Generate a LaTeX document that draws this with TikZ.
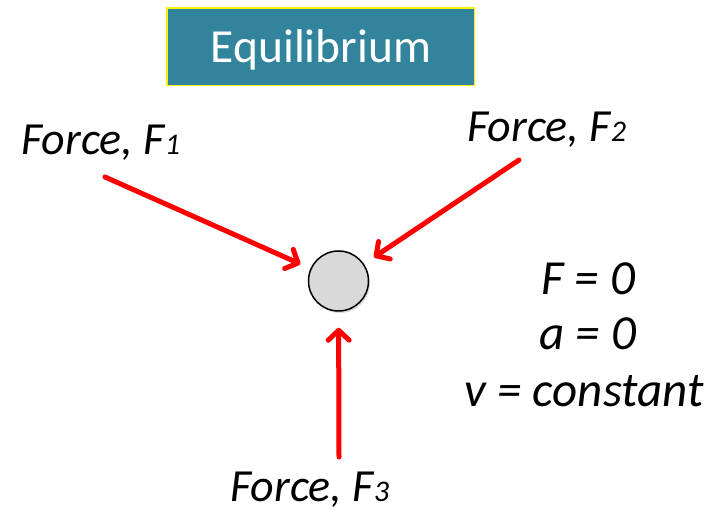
\documentclass[tikz,border=0pt]{standalone}
\usepackage{fontspec}
\setmainfont{Carlito}
\usetikzlibrary{arrows.meta,shadows}
\definecolor{teal1}{HTML}{31849B}
\definecolor{ballgray}{HTML}{D9D9D9}
\begin{document}
\begin{tikzpicture}[x=1pt,y=-1pt,
  forcearrow/.style={draw=red,line width=5pt,line cap=round,
    -{Straight Barb[length=10pt,width=21pt,line cap=round,line join=round]}},
  lbl/.style={inner sep=0pt,font=\fontsize{46}{50}\selectfont\itshape},
  eq/.style={inner sep=0pt,font=\fontsize{49}{56}\selectfont\itshape}]
\useasboundingbox (0,0) rectangle (723,510);
% title
\fill[teal1] (167,8) rectangle (474.5,85.5);
\draw[yellow,line width=1.6pt] (167,8) rectangle (474.5,85.5);
\node[anchor=base,inner sep=0pt,text=white,font=\fontsize{47.5}{50}\selectfont] (title) at (321,62.5) {Equilibrium};
% ball
\node[circle,draw=black,line width=1.5pt,fill=ballgray,minimum size=60pt,inner sep=0pt,
  drop shadow={shadow xshift=1.5pt,shadow yshift=-2pt,opacity=0.3}] (ball) at (338.5,281) {};
% arrows
\coordinate (s1) at (105,177);
\coordinate (s2) at (519,160);
\coordinate (s3) at (339,457);
\draw[forcearrow,shorten >=11pt] (s1) -- (ball);
\draw[forcearrow,shorten >=12pt] (s2) -- (ball);
\draw[forcearrow,shorten >=16pt] (s3) -- (ball);
% labels
\node[lbl,anchor=base west] (f1) at (21,155) {Force, F{\fontsize{30}{30}\selectfont 1}};
\node[lbl,anchor=base west] (f2) at (467,142) {Force, F{\fontsize{30}{30}\selectfont 2}};
\node[lbl,anchor=base west] (f3) at (230,501) {Force, F{\fontsize{30}{30}\selectfont 3}};
% equations
\node[eq,anchor=base] (e1) at (588,295) {F = 0};
\node[eq,anchor=base] (e2) at (588,350) {a = 0};
\node[eq,anchor=base] (e3) at (584,407) {v = constant};
\end{tikzpicture}
\end{document}
